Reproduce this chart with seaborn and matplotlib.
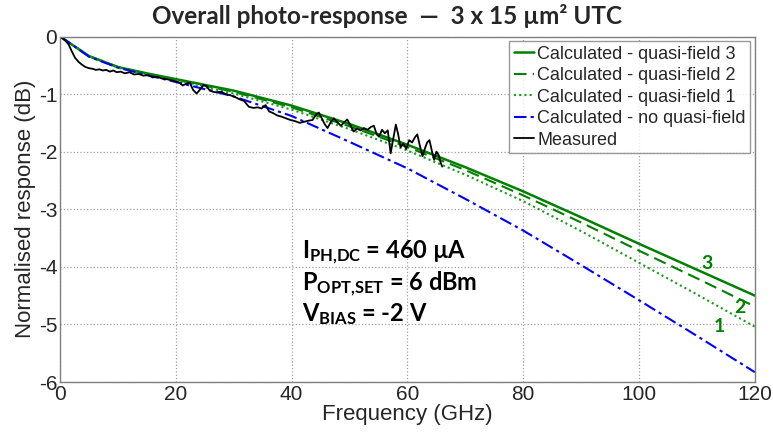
import matplotlib
matplotlib.use("Agg")
import matplotlib.pyplot as plt
import seaborn as sns
import pandas as pd

# ---------------- data ----------------
freq_calc = [0, 2.5, 5, 10, 15, 20, 30, 40, 50, 60, 70, 80, 90, 100, 110, 120]
qf3 = [0, -0.17, -0.34, -0.53, -0.64, -0.74, -0.94, -1.20, -1.52, -1.88, -2.27, -2.69, -3.14, -3.60, -4.05, -4.50]
qf2 = [0, -0.17, -0.34, -0.53, -0.65, -0.75, -0.96, -1.23, -1.56, -1.92, -2.32, -2.76, -3.23, -3.72, -4.20, -4.69]
qf1 = [0, -0.17, -0.34, -0.54, -0.66, -0.77, -0.99, -1.27, -1.61, -1.98, -2.40, -2.86, -3.38, -3.93, -4.48, -5.04]
noqf = [0, -0.17, -0.35, -0.54, -0.67, -0.79, -1.04, -1.38, -1.83, -2.29, -2.82, -3.37, -3.97, -4.58, -5.20, -5.83]

freq_meas = [0, 0.5, 1.0, 1.5, 2.0, 2.6, 3.2, 3.8, 4.4, 5.0, 5.6, 6.2, 6.8, 7.4, 8.0, 8.6,
             9.2, 9.8, 10.5, 11.2, 12.0, 12.8, 13.6, 14.4, 15.2, 16.0, 16.8, 17.6, 18.4,
             19.2, 20.0, 20.6, 21.2, 21.8, 22.4, 23.0, 23.6, 24.2, 24.8, 25.3, 25.8, 26.4,
             27.0, 27.8, 28.6, 29.4, 30.2, 31.0, 31.8, 32.6, 33.4, 34.2, 34.8, 35.5, 36.1,
             36.8, 37.5, 38.2, 39.0, 39.8, 40.6, 41.4, 42.2, 43.0, 43.6, 44.2, 44.7, 45.2,
             45.7, 46.2, 46.8, 47.3, 47.9, 48.5, 49.0, 49.6, 50.2, 50.7, 51.3, 51.9, 52.5,
             53.1, 53.7, 54.2, 54.7, 55.1, 55.6, 56.1, 56.6, 57.1, 57.5, 58.0, 58.4, 58.8,
             59.3, 59.8, 60.3, 60.8, 61.3, 61.7, 62.2, 62.6, 63.0, 63.4, 63.8, 64.2, 64.6,
             65.0, 65.4, 65.7, 66.0]
measured = [0, -0.03, -0.08, -0.14, -0.25, -0.37, -0.44, -0.49, -0.53, -0.55, -0.56, -0.58,
            -0.57, -0.59, -0.58, -0.61, -0.59, -0.62, -0.61, -0.64, -0.62, -0.66, -0.65, -0.68,
            -0.67, -0.71, -0.70, -0.73, -0.74, -0.76, -0.78, -0.80, -0.85, -0.82, -0.80, -0.93,
            -0.99, -0.92, -0.84, -0.86, -0.93, -0.96, -0.97, -0.96, -1.00, -1.02, -1.05, -1.09,
            -1.12, -1.22, -1.24, -1.23, -1.25, -1.19, -1.30, -1.33, -1.37, -1.39, -1.42, -1.45,
            -1.47, -1.50, -1.48, -1.46, -1.45, -1.36, -1.32, -1.42, -1.52, -1.59, -1.48, -1.42,
            -1.49, -1.55, -1.50, -1.44, -1.55, -1.65, -1.60, -1.63, -1.59, -1.62, -1.57, -1.55,
            -1.70, -1.74, -1.62, -1.68, -1.63, -2.03, -1.80, -1.53, -1.70, -1.92, -1.86, -1.95,
            -1.80, -1.84, -1.75, -1.70, -1.92, -2.08, -1.95, -1.84, -1.80, -1.98, -2.14, -2.00,
            -2.06, -2.18, -2.26]

x_ticks = [0, 20, 40, 60, 80, 100, 120]
y_ticks = [0, -1, -2, -3, -4, -5, -6]

series_labels = ["Calculated - quasi-field 3", "Calculated - quasi-field 2",
                 "Calculated - quasi-field 1", "Calculated - no quasi-field", "Measured"]

# ---------------- style ----------------
sns.set_style("white")
plt.rcParams["font.family"] = ["Liberation Sans", "DejaVu Sans"]
plt.rcParams["axes.unicode_minus"] = False
plt.rcParams["mathtext.fontset"] = "custom"
plt.rcParams["mathtext.bf"] = "Lato:bold"
plt.rcParams["mathtext.rm"] = "Lato:bold"

fig = plt.figure(figsize=(7.73, 4.32), dpi=100)
ax = fig.add_axes([0.0776, 0.1157, 0.8990, 0.7998])

calc = pd.DataFrame({"f": freq_calc, "qf3": qf3, "qf2": qf2, "qf1": qf1, "noqf": noqf})
meas = pd.DataFrame({"f": freq_meas, "m": measured})

green = "#008000"
green_light = "#1a9a1a"
sns.lineplot(data=calc, x="f", y="qf3", ax=ax, color=green, lw=1.8, label=series_labels[0])
sns.lineplot(data=calc, x="f", y="qf2", ax=ax, color=green, lw=1.5, linestyle=(0, (6, 3)),
             label=series_labels[1])
sns.lineplot(data=calc, x="f", y="qf1", ax=ax, color=green_light, lw=1.5, linestyle=(0, (1, 1.5)),
             label=series_labels[2])
sns.lineplot(data=calc, x="f", y="noqf", ax=ax, color="#0000ff", lw=1.5,
             linestyle=(0, (6, 2, 1.5, 2)), label=series_labels[3])
sns.lineplot(data=meas, x="f", y="m", ax=ax, color="black", lw=1.3, label=series_labels[4])

ax.set_xlim(0, 120)
ax.set_ylim(-6, 0)
ax.set_xticks(x_ticks)
ax.set_yticks(y_ticks)
ax.tick_params(axis="both", labelsize=15, direction="in", length=4, color="#808080", pad=2)
ax.grid(True, linestyle=":", color="#a0a0a0", lw=0.9)
for s in ax.spines.values():
    s.set_color("#808080")
    s.set_linewidth(1.0)

ax.set_xlabel("Frequency (GHz)", fontsize=16, labelpad=0)
ax.set_ylabel("Normalised response (dB)", fontsize=16, labelpad=2)

fig.suptitle("Overall photo-response  \u2014  3 x 15 \u00b5m\u00b2 UTC", x=0.5, y=0.99,
             fontsize=17.5, fontweight="bold", family=["Lato", "DejaVu Sans"], va="top")

leg = ax.legend(loc="upper right", fontsize=13, frameon=True, fancybox=False,
                edgecolor="#808080", handlelength=1.1, handletextpad=0.2,
                borderpad=0.25, labelspacing=0.25, borderaxespad=0.25)
leg.get_frame().set_linewidth(1.0)

# annotation block
ann_font = dict(fontsize=17, fontweight="bold", family=["Lato", "DejaVu Sans"], color="black")
ax.text(41.8, -3.85, r"$\mathbf{I_{PH{,}DC}}$ = 460 " + "\u00b5A", **ann_font)
ax.text(41.8, -4.42, r"$\mathbf{P_{OPT{,}SET}}$ = 6 dBm", **ann_font)
ax.text(41.8, -4.95, r"$\mathbf{V_{BIAS}}$ = -2 V", **ann_font)

num_font = dict(fontsize=14, fontweight="bold", color=green, family=["Lato", "DejaVu Sans"],
                ha="center", va="center")
ax.text(111.8, -3.95, "3", **num_font)
ax.text(117.4, -4.71, "2", **num_font)
ax.text(113.9, -5.03, "1", **num_font)

fig.savefig("out.png", dpi=100)
